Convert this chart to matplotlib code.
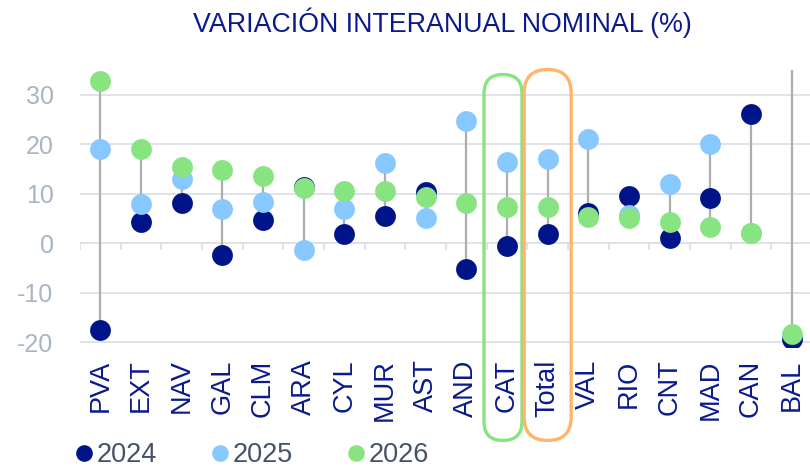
import matplotlib
matplotlib.use("Agg")
import matplotlib.pyplot as plt
from matplotlib.lines import Line2D
from matplotlib.patches import FancyBboxPatch
import numpy as np

plt.rcParams['font.family'] = ['Liberation Sans', 'DejaVu Sans']
plt.rcParams['axes.unicode_minus'] = False

# Variación interanual nominal por comunidad (%)
regions = ["PVA", "EXT", "NAV", "GAL", "CLM", "ARA", "CYL", "MUR", "AST",
           "AND", "CAT", "Total", "VAL", "RIO", "CNT", "MAD", "CAN", "BAL"]
v2024 = [-17.5, 4.2, 8.1, -2.4, 4.6, 11.3, 1.8, 5.4, 10.3,
         -5.2, -0.6, 1.8, 6.0, 9.5, 1.0, 9.1, 26.2, -19.3]
v2025 = [19.0, 8.0, 12.9, 7.0, 8.3, -1.4, 7.0, 16.1, 5.0,
         24.6, 16.5, 17.1, 21.0, 5.7, 11.9, 20.0, 2.0, 40.0]
v2026 = [32.7, 19.0, 15.3, 14.7, 13.5, 11.1, 10.5, 10.5, 9.3,
         8.1, 7.3, 7.3, 5.3, 5.0, 4.2, 3.2, 2.0, -18.3]
years = ["2024", "2025", "2026"]

C24 = "#001489"
C25 = "#86C8FF"
C26 = "#88E381"
NAVY = "#0A1A8C"

W, H = 810, 468
fig = plt.figure(figsize=(W / 100, H / 100), dpi=100)
ax = fig.add_axes([80 / W, 1 - 347 / H, 732 / W, 277 / H])

x = np.arange(len(regions))
a = np.array([v2024, v2025, v2026])
lo, hi = a.min(axis=0), a.max(axis=0)

ax.set_ylim(-21, 35)
ax.set_xlim(-0.5, len(regions) - 0.5)

for yv in range(-20, 31, 10):
    ax.axhline(yv, color="#DADDE4", lw=1.2, zorder=0)
# small ticks on the zero line between categories
ax.vlines(np.arange(len(regions) + 1) - 0.5, -1.4, 0, color="#DADDE4", lw=1.2, zorder=0)

ax.vlines(x, lo, hi, color="#ADADAD", lw=1.6, zorder=1)
ax.scatter(x, v2024, s=225, color=C24, zorder=2, linewidths=0)
ax.scatter(x, v2025, s=225, color=C25, zorder=3, linewidths=0)
ax.scatter(x, v2026, s=225, color=C26, zorder=4, linewidths=0)

for s in ax.spines.values():
    s.set_visible(False)
ax.set_yticks(range(-20, 31, 10))
ax.tick_params(axis="y", length=0, pad=19, labelsize=18, labelcolor="#A8B5C3")
ax.set_xticks(x)
ax.set_xticklabels(regions, rotation=90)
ax.tick_params(axis="x", length=0, pad=9, labelsize=19.5, labelcolor=NAVY)

fig.text(442 / W, 1 - 32 / H, "VARIACIÓN INTERANUAL NOMINAL (%)",
         ha="center", va="baseline", fontsize=19.3, color=NAVY)

# highlight boxes around CAT and Total
def pill(xc, width, ytop, ybot, color):
    left = xc - width / 2
    box = FancyBboxPatch((left, H - ybot), width, ybot - ytop,
                         boxstyle="round,pad=0,rounding_size=%f" % (width / 2),
                         fill=False, ec=color, lw=2.4, transform=None, clip_on=False)
    fig.add_artist(box)

fig.canvas.draw()
cx = ax.transData.transform([(10, 0), (11, 0)])[:, 0]
pill(cx[0] - 4, 38, 74.5, 440.5, C26)
pill(cx[1], 47, 69.5, 440.5, "#FFB469")

handles = [Line2D([], [], ls="none", marker="o", ms=12, mew=0, color=c)
           for c in (C24, C25, C26)]
fig.legend(handles, years, loc="center left", bbox_to_anchor=(76 / W, 1 - 455 / H),
           ncol=3, frameon=False, fontsize=19.5, labelcolor="#45536A",
           handlelength=0.6, handletextpad=0.15, columnspacing=2.05,
           borderpad=0, borderaxespad=0)

fig.savefig("out.png", dpi=100)
